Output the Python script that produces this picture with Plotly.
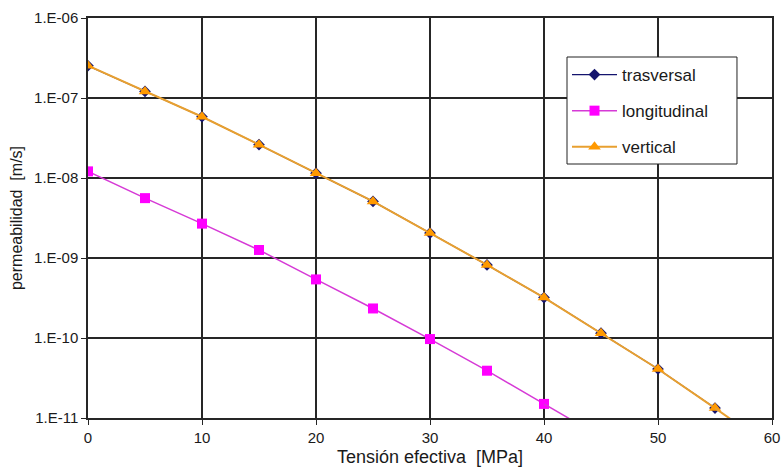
import plotly.graph_objects as go

x_vals = [0, 5, 10, 15, 20, 25, 30, 35, 40, 45, 50, 55]
trasversal = [2.53e-7, 1.21e-7, 5.83e-8, 2.61e-8, 1.15e-8, 5.1e-9, 2.05e-9, 8.2e-10, 3.2e-10, 1.15e-10, 4.1e-11, 1.33e-11]
vertical = [2.53e-7, 1.21e-7, 5.83e-8, 2.61e-8, 1.15e-8, 5.1e-9, 2.05e-9, 8.2e-10, 3.2e-10, 1.15e-10, 4.1e-11, 1.33e-11]
x_long = [0, 5, 10, 15, 20, 25, 30, 35, 40]
longitudinal = [1.21e-8, 5.6e-9, 2.69e-9, 1.26e-9, 5.4e-10, 2.34e-10, 9.7e-11, 3.9e-11, 1.5e-11]

# trend-line continuation past the last measured point
vertical_trend_x = [55, 57.2]
vertical_trend_y = [1.33e-11, 8.0e-12]
long_trend_x = [40, 42.8]
long_trend_y = [1.5e-11, 8.8e-12]

y_tickvals = [1e-11, 1e-10, 1e-9, 1e-8, 1e-7, 1e-6]
y_ticktext = ["1.E-11", "1.E-10", "1.E-09", "1.E-08", "1.E-07", "1.E-06"]
x_tickvals = [0, 10, 20, 30, 40, 50, 60]

navy = "#14146e"
magenta = "#ff00ff"
magenta_line = "#d63ad6"
orange = "#ff9900"
orange_line = "#e8a030"

fig = go.Figure()
fig.add_trace(go.Scatter(x=x_vals, y=trasversal, mode="lines+markers", name="trasversal",
                         line=dict(color=navy, width=1.2),
                         marker=dict(symbol="diamond", size=9, color=navy),
                         legendgroup="a"))
fig.add_trace(go.Scatter(x=x_long, y=longitudinal, mode="lines+markers", name="longitudinal",
                         line=dict(color=magenta_line, width=1.5),
                         marker=dict(symbol="square", size=10, color=magenta),
                         legendgroup="b"))
fig.add_trace(go.Scatter(x=long_trend_x, y=long_trend_y, mode="lines", showlegend=False,
                         line=dict(color=magenta_line, width=1.5), hoverinfo="skip"))
fig.add_trace(go.Scatter(x=x_vals, y=vertical, mode="lines+markers", name="vertical",
                         line=dict(color=orange_line, width=2),
                         marker=dict(symbol="triangle-up", size=11, color=orange),
                         legendgroup="c"))
fig.add_trace(go.Scatter(x=vertical_trend_x, y=vertical_trend_y, mode="lines", showlegend=False,
                         line=dict(color=orange_line, width=2), hoverinfo="skip"))

grid = "#262626"
fig.update_layout(
    width=783, height=473,
    margin=dict(l=88, r=11, t=18, b=55),
    paper_bgcolor="white", plot_bgcolor="white",
    font=dict(family="Liberation Sans, Arial, sans-serif", color="#1a1a1a", size=15),
    legend=dict(x=0.7003, y=0.9025, xanchor="left", yanchor="top",
                borderwidth=0, bgcolor="rgba(0,0,0,0)",
                font=dict(size=17), tracegroupgap=11, itemwidth=45),
    showlegend=True,
    shapes=[dict(type="rect", xref="paper", yref="paper", x0=0.7003, x1=0.9488, y0=0.635, y1=0.9025,
                 line=dict(color="#222222", width=1), fillcolor="white", layer="above")],
)
fig.update_xaxes(range=[0, 60], tickvals=x_tickvals, showgrid=True, gridcolor=grid, gridwidth=1.5,
                 showline=True, linecolor=grid, linewidth=1.5, mirror=True, automargin=False,
                 ticks="outside", ticklen=5, tickcolor=grid, zeroline=False,
                 tickfont=dict(size=15),
                 title=dict(text="Tensión efectiva  [MPa]", font=dict(size=18), standoff=6))
fig.update_yaxes(type="log", range=[-11, -6], tickvals=y_tickvals, ticktext=y_ticktext,
                 showgrid=True, gridcolor=grid, gridwidth=1.5, automargin=False,
                 showline=True, linecolor=grid, linewidth=1.5, mirror=True,
                 ticks="outside", ticklen=5, tickcolor=grid, zeroline=False,
                 tickfont=dict(size=15), ticklabelstandoff=0,
                 title=dict(text="permeabilidad  [m/s]", font=dict(size=16), standoff=7))

fig.write_html("out.html")
